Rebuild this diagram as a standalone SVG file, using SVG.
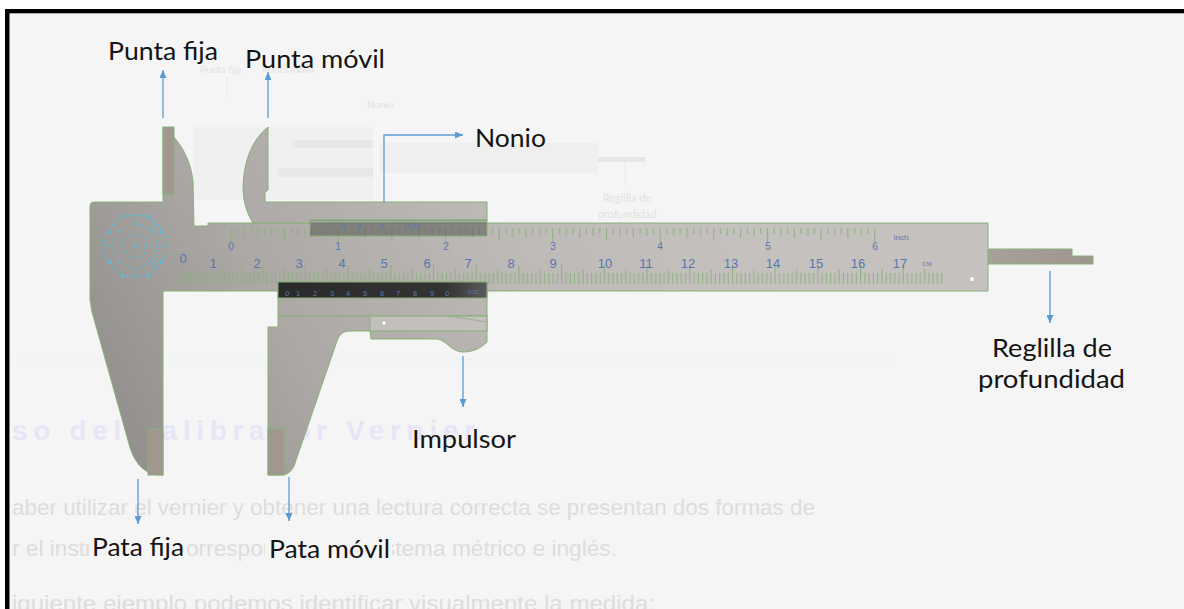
<svg xmlns="http://www.w3.org/2000/svg" width="1184" height="609" viewBox="0 0 1184 609">
  <defs>
    <style>
      .lbl{font-family:Lato,"Open Sans","Liberation Sans",sans-serif;font-size:25px;fill:#141414}
      .page{font-family:"Liberation Sans",Arial,sans-serif;font-size:22px;fill:#dddddd}
      .faint{font-family:Lato,"Liberation Sans",sans-serif;fill:#e2e2e2}
      .arr{fill:none;stroke:#5b9bd5;stroke-width:1.3;marker-end:url(#ah)}
      .edge{stroke:#86b277;stroke-width:1}
      .num{font-family:"Liberation Sans",Arial,sans-serif;fill:#5877b0;text-anchor:middle}
      .cm{font-size:13px}
      .inch{font-size:10px}
      .vn{font-size:7.5px}
      .brown{fill:#a1978e;stroke:#86b277;stroke-width:1}
    </style>
    <marker id="ah" viewBox="0 0 8 7" refX="8" refY="3.5" markerWidth="8" markerHeight="7" markerUnits="userSpaceOnUse" orient="auto">
      <path d="M0,0 L8,3.5 L0,7 Z" fill="#5b9bd5"/>
    </marker>
    <linearGradient id="metal" gradientUnits="userSpaceOnUse" x1="90" y1="480" x2="700" y2="140">
      <stop offset="0" stop-color="#8c8a88"/>
      <stop offset="0.35" stop-color="#aba8a5"/>
      <stop offset="0.7" stop-color="#bdbab7"/>
      <stop offset="1" stop-color="#c4c1be"/>
    </linearGradient>
    <linearGradient id="rod" x1="0" y1="0" x2="1" y2="0">
      <stop offset="0" stop-color="#a8a199"/>
      <stop offset="1" stop-color="#9d958e"/>
    </linearGradient>
    <linearGradient id="band" x1="0" y1="0" x2="1" y2="0">
      <stop offset="0" stop-color="#2a2a2a"/>
      <stop offset="0.8" stop-color="#333333"/>
      <stop offset="1" stop-color="#5a5a5a"/>
    </linearGradient>
    <!-- millimetre graduation, one centimetre per tile -->
    <pattern id="mm" patternUnits="userSpaceOnUse" x="176.8" y="265" width="42.7" height="20">
      <path d="M0.6,0V19 M4.87,8V19 M9.14,8V19 M13.41,8V19 M17.68,8V19 M21.95,4V19 M26.22,8V19 M30.49,8V19 M34.76,8V19 M39.03,8V19" stroke="#8bb07b" stroke-width="1"/>
    </pattern>
    <!-- sixteenth-of-an-inch graduation, one inch per tile -->
    <pattern id="in16" patternUnits="userSpaceOnUse" x="230.4" y="228" width="107.3" height="16">
      <path d="M0.6,0V14 M7.31,0V6 M14.01,0V8 M20.72,0V6 M27.42,0V10 M34.13,0V6 M40.84,0V8 M47.54,0V6 M54.25,0V12 M60.95,0V6 M67.66,0V8 M74.37,0V6 M81.07,0V10 M87.78,0V6 M94.48,0V8 M101.19,0V6" stroke="#8bb07b" stroke-width="1"/>
    </pattern>
    <clipPath id="frame">
      <rect x="9.5" y="13" width="1175" height="596"/>
    </clipPath>
  </defs>

  <!-- outer margin and frame -->
  <rect x="0" y="0" width="1184" height="609" fill="#ffffff"/>
  <rect x="9.5" y="13" width="1175" height="596" fill="#f5f5f5"/>

  <g clip-path="url(#frame)">
    <!-- faded page content behind the instrument -->
    <g id="page-background">
      <rect x="193" y="127" width="180" height="73" fill="#f0f0f0"/>
      <rect x="292" y="140" width="81" height="8" fill="#e7e7e7"/>
      <rect x="278" y="168" width="95" height="9" fill="#e8e8e8"/>
      <rect x="380" y="143" width="218" height="30" fill="#efefef"/>
      <rect x="598" y="157" width="47" height="5" fill="#e5e5e5"/>
      <line x1="625" y1="162" x2="625" y2="186" stroke="#e4e8ee" stroke-width="1"/>
      <line x1="227" y1="76" x2="227" y2="100" stroke="#e8ecf0" stroke-width="1"/>
      <text class="faint" x="200" y="73" font-size="10">Punta fija</text>
      <text class="faint" x="262" y="73" font-size="10">Punta móvil</text>
      <text class="faint" x="367" y="108" font-size="10">Nonio</text>
      <text class="faint" x="627" y="202" font-size="11" text-anchor="middle">Reglilla de</text>
      <text class="faint" x="627" y="218" font-size="11" text-anchor="middle">profundidad</text>
      <line x1="10" y1="360" x2="892" y2="360" stroke="#dff2f7" stroke-width="1.2"/>
      <text x="-14" y="440" textLength="489" lengthAdjust="spacing" font-family="'Liberation Sans',Arial,sans-serif" font-weight="bold" font-size="28" fill="#e7e5f7">Uso del calibrador Vernier</text>
      <text class="page" x="12" y="515" textLength="803" lengthAdjust="spacingAndGlyphs">aber utilizar el vernier y obtener una lectura correcta se presentan dos formas de</text>
      <text class="page" x="12" y="556" textLength="605" lengthAdjust="spacingAndGlyphs">r el instrumento correspondiente al sistema métrico e inglés.</text>
      <text class="page" x="12" y="611" textLength="643" lengthAdjust="spacingAndGlyphs">iguiente ejemplo podemos identificar visualmente la medida:</text>
    </g>

    <!-- vernier caliper -->
    <g id="caliper">
      <!-- depth rod -->
      <path d="M987,249 H1072 V256 H1093 V264 H987 Z" fill="url(#rod)" class="edge"/>

      <!-- fixed jaws and main beam -->
      <path d="M163,127 C178,138 191,158 193,182 L194,226 L208,226 L208,223 L988,223 L988,291 L163,291 L163,475 C146,476 134,464 129,444 L92,312 L90,300 L90,206 Q90,202 94,202 L163,202 Z" fill="url(#metal)" class="edge"/>
      <rect x="163" y="127" width="11" height="67" class="brown"/>
      <rect x="148" y="429" width="15" height="46" class="brown"/>
      <circle cx="972" cy="279" r="2.5" fill="#ffffff" stroke="#9ab48c" stroke-width="0.6"/>

      <!-- maker's emblem -->
      <g fill="none" stroke="#4cc3e2" stroke-width="1.2">
        <circle cx="135" cy="246" r="31" stroke-dasharray="2 2.6"/>
        <circle cx="135" cy="246" r="22" stroke-dasharray="1.4 3"/>
        <circle cx="135" cy="246" r="12" stroke-dasharray="3 3" opacity="0.8"/>
        <path d="M104,246 h10 M156,246 h10 M135,215 v9 M135,268 v9 M113,224 l7,7 M150,261 l7,7 M157,224 l-7,7 M120,261 l-7,7" stroke-dasharray="1.5 1.5"/>
      </g>
      <g fill="#4cc3e2">
        <circle cx="110" cy="232" r="1.6"/><circle cx="160" cy="232" r="1.6"/>
        <circle cx="110" cy="262" r="1.6"/><circle cx="160" cy="262" r="1.6"/>
        <circle cx="123" cy="216" r="1.4"/><circle cx="148" cy="216" r="1.4"/>
        <circle cx="123" cy="276" r="1.4"/><circle cx="148" cy="276" r="1.4"/>
        <circle cx="135" cy="246" r="1.5"/>
      </g>

      <!-- graduations on the beam -->
      <rect x="176" y="265" width="767" height="20" fill="url(#mm)"/>
      <rect x="230" y="228" width="648" height="16" fill="url(#in16)"/>

      <!-- inch figures -->
      <g class="num inch">
        <text x="231" y="250">0</text>
        <text x="338" y="250">1</text>
        <text x="446" y="250">2</text>
        <text x="553" y="250">3</text>
        <text x="660" y="250">4</text>
        <text x="768" y="250">5</text>
        <text x="875" y="250">6</text>
        <text x="901" y="240" font-size="8">inch</text>
      </g>
      <!-- centimetre figures -->
      <g class="num cm">
        <text x="183" y="263">0</text>
        <text x="213" y="268">1</text>
        <text x="257" y="268">2</text>
        <text x="299" y="268">3</text>
        <text x="342" y="268">4</text>
        <text x="384" y="268">5</text>
        <text x="427" y="268">6</text>
        <text x="468" y="268">7</text>
        <text x="511" y="268">8</text>
        <text x="553" y="268">9</text>
        <text x="605" y="268">10</text>
        <text x="646" y="268">11</text>
        <text x="688" y="268">12</text>
        <text x="731" y="268">13</text>
        <text x="773" y="268">14</text>
        <text x="816" y="268">15</text>
        <text x="858" y="268">16</text>
        <text x="900" y="268">17</text>
        <text x="927" y="266" font-size="6">CM</text>
      </g>

      <!-- sliding head: upper jaw and upper vernier plate -->
      <path d="M268,127 L268,190 L265,192 L265,202 L487,202 L487,220 L310,220 L310,223 L253,223 C246,212 243,200 243,186 C244,160 252,140 268,127 Z" fill="url(#metal)" class="edge"/>
      <rect x="310" y="220" width="177" height="16" fill="#3c3c3c" fill-opacity="0.42" class="edge"/>
      <g class="num vn">
        <text x="343" y="229">0</text>
        <text x="359" y="229">4</text>
        <text x="382" y="229">8</text>
        <text x="412" y="229" font-size="6.5">1/128</text>
      </g>

      <!-- sliding head: lower jaw, lower vernier plate and thumb push -->
      <path d="M278,282 L487,282 L487,342 C480,349 472,352 463,352 C452,352 447,341 438,339 L371,339 L370,331 L350,331 C343,331 339,335 337,341 L294,466 C291,472 287,475 281,475 L268,475 L268,327 L278,327 Z" fill="url(#metal)" class="edge"/>
      <rect x="278" y="282" width="209" height="16" fill="url(#band)" class="edge"/>
      <line x1="278" y1="316" x2="487" y2="316" class="edge"/>
      <rect x="370" y="316" width="117" height="15" fill="#c2bfbc" class="edge"/>
      <line x1="448" y1="316" x2="487" y2="322" class="edge" opacity="0.7"/>
      <circle cx="384" cy="323" r="2.2" fill="#ffffff" stroke="#9ab48c" stroke-width="0.6"/>
      <rect x="268" y="429" width="16" height="46" class="brown"/>
      <g class="num vn" fill="#4e6da6">
        <text x="287" y="296">0</text>
        <text x="298" y="296">1</text>
        <text x="315" y="296">2</text>
        <text x="332" y="296">3</text>
        <text x="348" y="296">4</text>
        <text x="365" y="296">5</text>
        <text x="382" y="296">6</text>
        <text x="398" y="296">7</text>
        <text x="415" y="296">8</text>
        <text x="432" y="296">9</text>
        <text x="447" y="296">0</text>
        <text x="473" y="294" font-size="6">1/20</text>
      </g>
    </g>

    <!-- part names -->
    <g id="label-punta-fija"><text class="lbl" x="108" y="60" textLength="110" lengthAdjust="spacingAndGlyphs">Punta fija</text></g>
    <g id="label-punta-movil"><text class="lbl" x="245" y="68" textLength="140" lengthAdjust="spacingAndGlyphs">Punta móvil</text></g>
    <g id="label-nonio"><text class="lbl" x="475" y="147" textLength="71" lengthAdjust="spacingAndGlyphs">Nonio</text></g>
    <g id="label-reglilla">
      <text class="lbl" x="992" y="357" textLength="120" lengthAdjust="spacingAndGlyphs">Reglilla de</text>
      <text class="lbl" x="978" y="388" textLength="147" lengthAdjust="spacingAndGlyphs">profundidad</text>
    </g>
    <g id="label-impulsor"><text class="lbl" x="412" y="448" textLength="104" lengthAdjust="spacingAndGlyphs">Impulsor</text></g>
    <g id="label-pata-fija">
      <rect x="89" y="535" width="98" height="29" fill="#f5f5f5"/>
      <text class="lbl" x="92" y="556" textLength="92" lengthAdjust="spacingAndGlyphs">Pata fija</text>
    </g>
    <g id="label-pata-movil">
      <rect x="265" y="535" width="127" height="30" fill="#f5f5f5"/>
      <text class="lbl" x="269" y="558" textLength="121" lengthAdjust="spacingAndGlyphs">Pata móvil</text>
    </g>

    <!-- leader arrows -->
    <g id="connectors">
      <path class="arr" d="M163,118 V70"/>
      <path class="arr" d="M268,118 V72"/>
      <path class="arr" d="M384,202 V135 H463"/>
      <path class="arr" d="M1050,271 V323"/>
      <path class="arr" d="M463,356 V407"/>
      <path class="arr" d="M138,479 V524"/>
      <path class="arr" d="M289,477 V521"/>
    </g>
  </g>

  <!-- black frame edges -->
  <rect x="5" y="9" width="1179" height="4.3" fill="#000000"/>
  <rect x="5" y="9" width="4.5" height="600" fill="#000000"/>
</svg>
